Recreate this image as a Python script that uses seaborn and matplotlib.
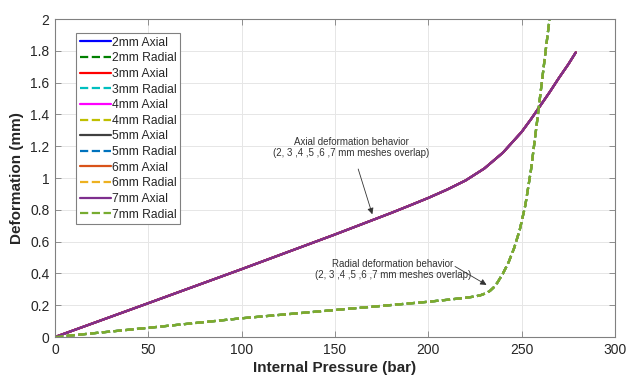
import matplotlib
matplotlib.use("Agg")
import matplotlib.pyplot as plt
import numpy as np
import pandas as pd
import seaborn as sns

# values (all meshes overlap)
meshes = ["2mm", "3mm", "4mm", "5mm", "6mm", "7mm"]
axial_colors = ["#0000ff", "#ff0000", "#ff00ff", "#404040", "#d95319", "#7e2f8e"]
radial_colors = ["#008000", "#00bfbf", "#bfbf00", "#0072bd", "#edb120", "#77ac30"]

pressure_axial = [0, 50, 100, 150, 170, 180, 190, 200, 210, 220, 230,
                  240, 250, 255, 260, 265, 270, 275, 279]
axial_def = [0, 0.213, 0.427, 0.645, 0.735, 0.78, 0.827, 0.875, 0.927,
             0.985, 1.06, 1.16, 1.29, 1.37, 1.455, 1.54, 1.63, 1.715, 1.79]

pressure_radial = [0, 50, 100, 150, 175, 200, 210, 220, 225, 228, 231, 233,
                   235, 237, 240, 243, 246, 249, 252, 255, 258, 261, 264, 265.5]
radial_def = [0, 0.058, 0.118, 0.17, 0.196, 0.222, 0.234, 0.247, 0.255,
              0.263, 0.276, 0.29, 0.312, 0.342, 0.40, 0.47, 0.56, 0.675,
              0.83, 1.05, 1.33, 1.62, 1.91, 2.05]

sns.set_theme(style="whitegrid")
plt.rcParams["font.family"] = ["Liberation Sans", "DejaVu Sans"]

fig = plt.figure(figsize=(6.29, 3.77), dpi=100)
ax = fig.add_axes([0.0874, 0.106, 0.8903, 0.8435])

for m, ca, cr in zip(meshes, axial_colors, radial_colors):
    dfa = pd.DataFrame({"p": pressure_axial, "d": axial_def})
    dfr = pd.DataFrame({"p": pressure_radial, "d": radial_def})
    sns.lineplot(data=dfa, x="p", y="d", ax=ax, color=ca, lw=1.6,
                 label=f"{m} Axial", sort=False)
    sns.lineplot(data=dfr, x="p", y="d", ax=ax, color=cr, lw=1.6,
                 linestyle="--", label=f"{m} Radial", sort=False)

ax.set_xlim(0, 300)
ax.set_ylim(0, 2)
ax.set_xticks(np.arange(0, 301, 50))
ax.set_yticks(np.arange(0, 2.01, 0.2))
ax.set_yticklabels(["0", "0.2", "0.4", "0.6", "0.8", "1", "1.2", "1.4",
                    "1.6", "1.8", "2"])
ax.set_xlabel("Internal Pressure (bar)", fontsize=11, fontweight="bold",
              color="#262626", labelpad=3)
ax.set_ylabel("Deformation (mm)", fontsize=11, fontweight="bold",
              color="#262626", labelpad=4)
ax.tick_params(direction="in", length=4, width=0.6, colors="#808080",
               labelcolor="#262626", labelsize=10, top=True, right=True,
               bottom=True, left=True, pad=4)
ax.grid(True, color="#e6e6e6", lw=0.7)
for s in ax.spines.values():
    s.set_color("#808080")
    s.set_linewidth(0.8)

ax.annotate("Axial deformation behavior\n(2, 3 ,4 ,5 ,6 ,7 mm meshes overlap)",
            xy=(170, 0.772), xytext=(158.8, 1.194), ha="center", va="center",
            fontsize=7, color="#333333", linespacing=1.15,
            arrowprops=dict(arrowstyle="-|>", color="#333333", lw=0.6,
                            shrinkA=6, shrinkB=0, mutation_scale=9))
ax.annotate("Radial deformation behavior\n(2, 3 ,4 ,5 ,6 ,7 mm meshes overlap)",
            xy=(231.2, 0.328), xytext=(181, 0.425), ha="center", va="center",
            fontsize=7, color="#333333", linespacing=1.15)
ax.annotate("", xy=(231.2, 0.328), xytext=(214.3, 0.444),
            arrowprops=dict(arrowstyle="-|>", color="#333333", lw=0.6,
                            shrinkA=0, shrinkB=0, mutation_scale=9))

leg = ax.legend(loc="upper left", bbox_to_anchor=(0.0375, 0.956),
                borderaxespad=0, fontsize=8.7, frameon=True, fancybox=False,
                handlelength=2.6, handletextpad=0.1, labelspacing=0.3,
                borderpad=0.3, framealpha=1)
leg.get_frame().set_edgecolor("#808080")
leg.get_frame().set_linewidth(0.8)
for t in leg.get_texts():
    t.set_color("#262626")

fig.savefig("out.png", dpi=100)
